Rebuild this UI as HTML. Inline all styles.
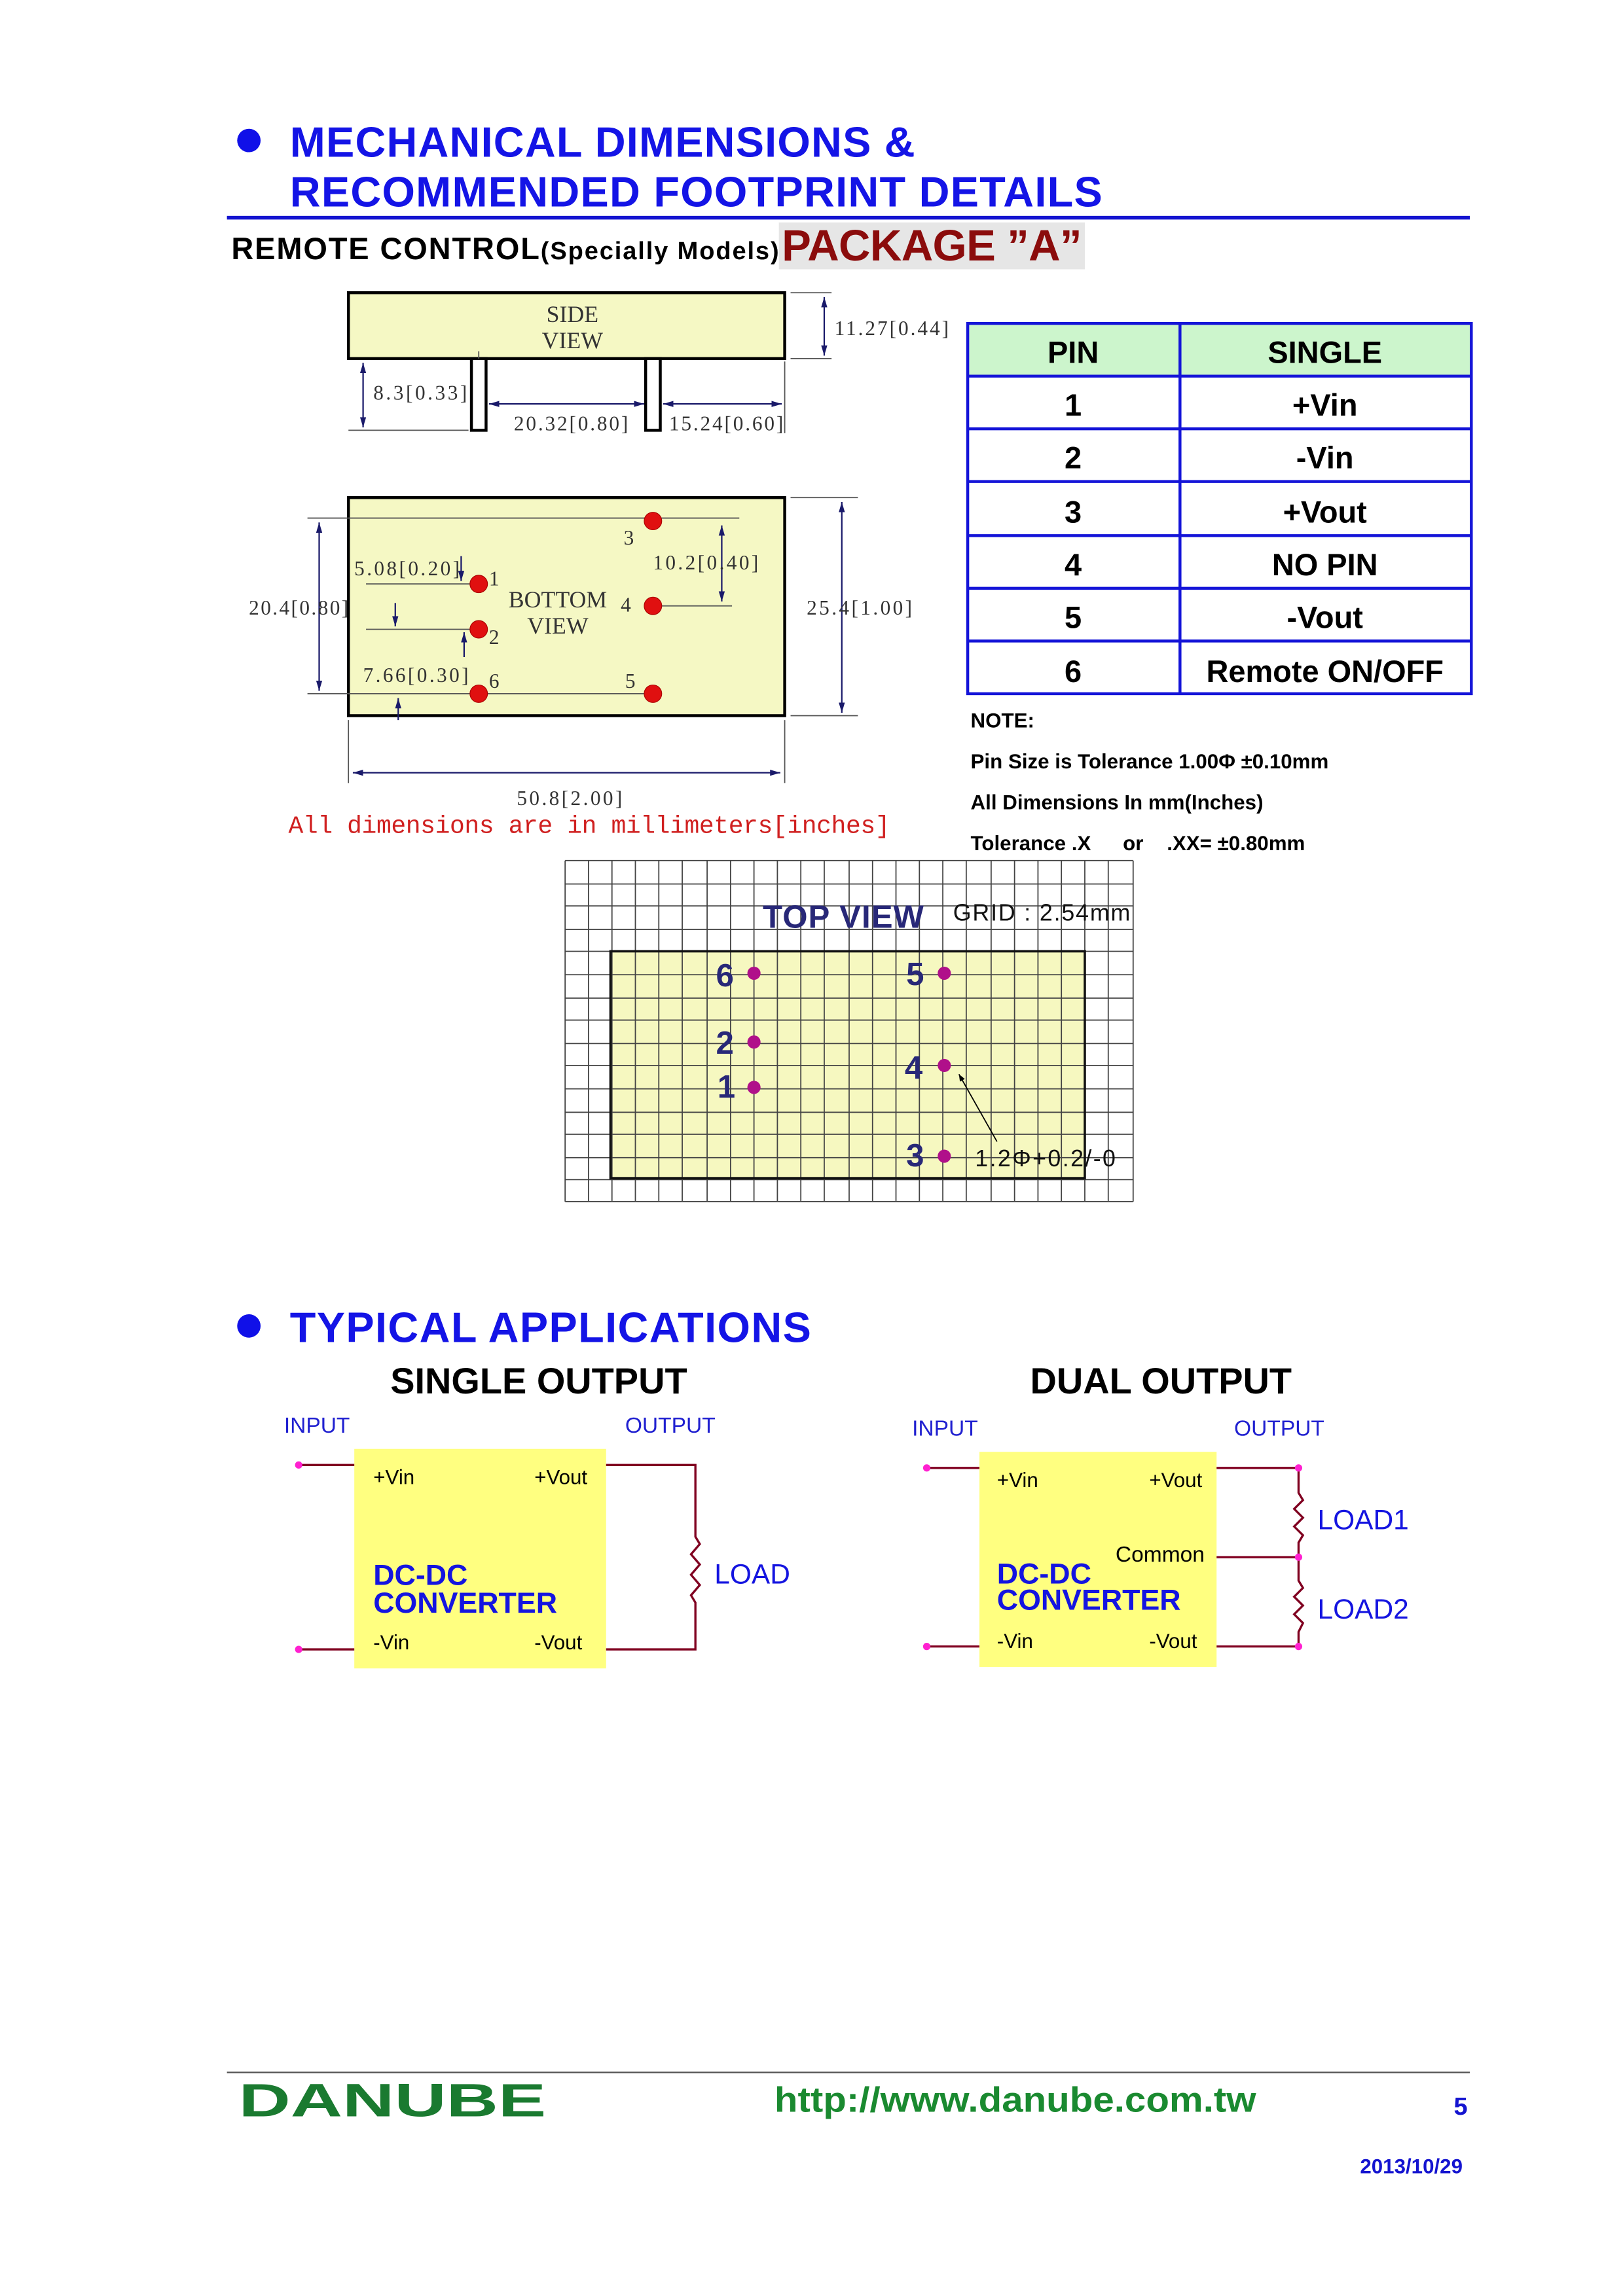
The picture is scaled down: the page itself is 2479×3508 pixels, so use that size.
<!DOCTYPE html>
<html><head><meta charset="utf-8"><style>html,body{margin:0;padding:0;background:#fff}svg{display:block}</style></head>
<body>
<svg width="2479" height="3508" viewBox="0 0 1108.6 1568.8" xmlns="http://www.w3.org/2000/svg" font-family="Liberation Sans, sans-serif">
<defs>
<marker id="a" viewBox="0 0 10 10" refX="10" refY="5" markerWidth="7" markerHeight="7" orient="auto-start-reverse"><path d="M0,2 L10,5 L0,8 z" fill="#1a1a6a"/></marker>
<marker id="b" viewBox="0 0 10 10" refX="10" refY="5" markerWidth="6" markerHeight="6" orient="auto"><path d="M0,1 L10,5 L0,9 z" fill="#000"/></marker>
</defs>
<rect width="1109" height="1569" fill="#fff"/>
<!-- Header -->
<circle cx="170" cy="96" r="8" fill="#1010e8"/>
<text x="198" y="107" font-size="29" font-weight="bold" fill="#1414e6" textLength="427">MECHANICAL DIMENSIONS &amp;</text>
<text x="198" y="141" font-size="29" font-weight="bold" fill="#1414e6" textLength="555">RECOMMENDED FOOTPRINT DETAILS</text>
<rect x="155" y="147.5" width="849" height="2.5" fill="#1414d0"/>
<text x="158" y="177" font-size="21" font-weight="bold" fill="#000" textLength="374">REMOTE CONTROL<tspan font-size="17">(Specially Models)</tspan></text>
<rect x="532" y="152" width="209" height="32" fill="#e6e6e6"/>
<text x="534" y="178" font-size="30" font-weight="bold" fill="#8b0c0c" textLength="205">PACKAGE ”A”</text>

<!-- Side view -->
<g stroke="#000" font-family="Liberation Serif, serif">
<rect x="238" y="200" width="298" height="45" fill="#f5f8c4" stroke-width="2"/>
<rect x="322" y="245" width="10" height="49" fill="#fff" stroke-width="2"/>
<rect x="441" y="245" width="10" height="49" fill="#fff" stroke-width="2"/>
<g stroke="#555" stroke-width="0.8" fill="none">
<line x1="540" y1="200" x2="568" y2="200"/><line x1="540" y1="245" x2="568" y2="245"/>
<line x1="238" y1="294" x2="320" y2="294"/><line x1="536" y1="247" x2="536" y2="296"/>
<line x1="327" y1="240" x2="327" y2="245"/>
</g>
<g stroke="#1a1a6a" stroke-width="1" fill="none">
<line x1="563" y1="203" x2="563" y2="243" marker-start="url(#a)" marker-end="url(#a)"/>
<line x1="248" y1="248" x2="248" y2="292" marker-start="url(#a)" marker-end="url(#a)"/>
<line x1="334" y1="276" x2="440" y2="276" marker-start="url(#a)" marker-end="url(#a)"/>
<line x1="453" y1="276" x2="534" y2="276" marker-start="url(#a)" marker-end="url(#a)"/>
</g>
</g>
<g font-family="Liberation Serif, serif" font-size="14" fill="#333">
<text x="391" y="220" text-anchor="middle" font-size="16">SIDE</text>
<text x="391" y="238" text-anchor="middle" font-size="16">VIEW</text>
<text x="570" y="229" textLength="78">11.27[0.44]</text>
<text x="255" y="273" textLength="64">8.3[0.33]</text>
<text x="351" y="294" textLength="78">20.32[0.80]</text>
<text x="457" y="294" textLength="78">15.24[0.60]</text>
</g>

<!-- Bottom view -->
<rect x="238" y="340" width="298" height="149" fill="#f5f8c4" stroke="#000" stroke-width="2"/>
<g stroke="#555" stroke-width="0.8" fill="none">
<line x1="210" y1="354" x2="505" y2="354"/>
<line x1="210" y1="474" x2="446" y2="474"/>
<line x1="250" y1="399" x2="325" y2="399"/>
<line x1="250" y1="430" x2="325" y2="430"/>
<line x1="446" y1="414" x2="500" y2="414"/>
<line x1="540" y1="340" x2="586" y2="340"/><line x1="540" y1="489" x2="586" y2="489"/>
<line x1="238" y1="492" x2="238" y2="535"/><line x1="536" y1="492" x2="536" y2="535"/>
</g>
<g stroke="#1a1a6a" stroke-width="1" fill="none">
<line x1="218" y1="357" x2="218" y2="472" marker-start="url(#a)" marker-end="url(#a)"/>
<line x1="575" y1="343" x2="575" y2="487" marker-start="url(#a)" marker-end="url(#a)"/>
<line x1="241" y1="528" x2="533" y2="528" marker-start="url(#a)" marker-end="url(#a)"/>
<line x1="493" y1="359" x2="493" y2="411" marker-start="url(#a)" marker-end="url(#a)"/>
<line x1="315" y1="380" x2="315" y2="397" marker-end="url(#a)"/>
<line x1="270" y1="412" x2="270" y2="428" marker-end="url(#a)"/>
<line x1="317" y1="449" x2="317" y2="432" marker-end="url(#a)"/>
<line x1="272" y1="492" x2="272" y2="477" marker-end="url(#a)"/>
</g>
<g fill="#e01010" stroke="#a00" stroke-width="0.5">
<circle cx="446" cy="356" r="6"/><circle cx="327" cy="399" r="6"/><circle cx="446" cy="414" r="6"/>
<circle cx="327" cy="430" r="6"/><circle cx="327" cy="474" r="6"/><circle cx="446" cy="474" r="6"/>
</g>
<g font-family="Liberation Serif, serif" font-size="14" fill="#333">
<text x="426" y="372">3</text><text x="334" y="400">1</text><text x="424" y="418">4</text>
<text x="334" y="440">2</text><text x="334" y="470">6</text><text x="427" y="470">5</text>
<text x="381" y="415" text-anchor="middle" font-size="16">BOTTOM</text>
<text x="381" y="433" text-anchor="middle" font-size="16">VIEW</text>
<text x="242" y="393" textLength="72">5.08[0.20]</text>
<text x="446" y="389" textLength="72">10.2[0.40]</text>
<text x="170" y="420" textLength="68">20.4[0.80]</text>
<text x="551" y="420" textLength="72">25.4[1.00]</text>
<text x="248" y="466" textLength="72">7.66[0.30]</text>
<text x="353" y="550" textLength="72">50.8[2.00]</text>
</g>
<text x="197" y="569" font-family="Liberation Mono, monospace" font-size="17" fill="#d02020" textLength="411">All dimensions are in millimeters[inches]</text>

<!-- Table -->
<rect x="661" y="221" width="344" height="36" fill="#ccf5cc"/>
<g stroke="#1414d8" stroke-width="2" fill="none">
<rect x="661" y="221" width="344" height="253"/>
<line x1="806" y1="221" x2="806" y2="474"/>
<line x1="661" y1="257" x2="1005" y2="257"/><line x1="661" y1="293" x2="1005" y2="293"/>
<line x1="661" y1="329" x2="1005" y2="329"/><line x1="661" y1="366" x2="1005" y2="366"/>
<line x1="661" y1="402" x2="1005" y2="402"/><line x1="661" y1="438" x2="1005" y2="438"/>
</g>
<g font-size="21" font-weight="bold" fill="#000" text-anchor="middle">
<text x="733" y="248">PIN</text><text x="905" y="248">SINGLE</text>
<text x="733" y="284">1</text><text x="905" y="284">+Vin</text>
<text x="733" y="320">2</text><text x="905" y="320">-Vin</text>
<text x="733" y="357">3</text><text x="905" y="357">+Vout</text>
<text x="733" y="393">4</text><text x="905" y="393">NO PIN</text>
<text x="733" y="429">5</text><text x="905" y="429">-Vout</text>
<text x="733" y="466">6</text><text x="905" y="466">Remote ON/OFF</text>
</g>
<g font-size="14" font-weight="bold" fill="#000">
<text x="663" y="497">NOTE:</text>
<text x="663" y="525">Pin Size is Tolerance 1.00Φ ±0.10mm</text>
<text x="663" y="553">All Dimensions In mm(Inches)</text>
<text x="663" y="581">Tolerance .X</text><text x="767" y="581">or</text><text x="797" y="581">.XX= ±0.80mm</text>
</g>

<!-- Top view grid -->
<rect x="417" y="650" width="324" height="155" fill="#f6f8c0"/>
<g stroke="#444" stroke-width="0.8">
<line x1="386" y1="588" x2="386" y2="821"/><line x1="402" y1="588" x2="402" y2="821"/><line x1="418" y1="588" x2="418" y2="821"/><line x1="434" y1="588" x2="434" y2="821"/><line x1="450" y1="588" x2="450" y2="821"/><line x1="466" y1="588" x2="466" y2="821"/><line x1="483" y1="588" x2="483" y2="821"/><line x1="499" y1="588" x2="499" y2="821"/><line x1="515" y1="588" x2="515" y2="821"/><line x1="531" y1="588" x2="531" y2="821"/><line x1="547" y1="588" x2="547" y2="821"/><line x1="563" y1="588" x2="563" y2="821"/><line x1="580" y1="588" x2="580" y2="821"/><line x1="596" y1="588" x2="596" y2="821"/><line x1="612" y1="588" x2="612" y2="821"/><line x1="628" y1="588" x2="628" y2="821"/><line x1="644" y1="588" x2="644" y2="821"/><line x1="660" y1="588" x2="660" y2="821"/><line x1="677" y1="588" x2="677" y2="821"/><line x1="693" y1="588" x2="693" y2="821"/><line x1="709" y1="588" x2="709" y2="821"/><line x1="725" y1="588" x2="725" y2="821"/><line x1="741" y1="588" x2="741" y2="821"/><line x1="757" y1="588" x2="757" y2="821"/><line x1="774" y1="588" x2="774" y2="821"/>
<line x1="386" y1="588" x2="774" y2="588"/><line x1="386" y1="604" x2="774" y2="604"/><line x1="386" y1="619" x2="774" y2="619"/><line x1="386" y1="635" x2="774" y2="635"/><line x1="386" y1="650" x2="774" y2="650"/><line x1="386" y1="666" x2="774" y2="666"/><line x1="386" y1="682" x2="774" y2="682"/><line x1="386" y1="697" x2="774" y2="697"/><line x1="386" y1="713" x2="774" y2="713"/><line x1="386" y1="728" x2="774" y2="728"/><line x1="386" y1="744" x2="774" y2="744"/><line x1="386" y1="760" x2="774" y2="760"/><line x1="386" y1="775" x2="774" y2="775"/><line x1="386" y1="791" x2="774" y2="791"/><line x1="386" y1="806" x2="774" y2="806"/><line x1="386" y1="821" x2="774" y2="821"/>
</g>
<rect x="417" y="650" width="324" height="155" fill="none" stroke="#111" stroke-width="1.6"/>
<text x="521" y="634" font-size="22" font-weight="bold" fill="#282878" textLength="110">TOP VIEW</text>
<text x="651" y="629" font-size="16" fill="#111" textLength="121">GRID : 2.54mm</text>
<g fill="#b0108a">
<circle cx="515" cy="665" r="4.5"/><circle cx="645" cy="665" r="4.5"/><circle cx="515" cy="712" r="4.5"/>
<circle cx="645" cy="728" r="4.5"/><circle cx="515" cy="743" r="4.5"/><circle cx="645" cy="790" r="4.5"/>
</g>
<g font-size="22" font-weight="bold" fill="#282878">
<text x="489" y="674">6</text><text x="619" y="673">5</text><text x="489" y="720">2</text>
<text x="618" y="737">4</text><text x="490" y="750">1</text><text x="619" y="797">3</text>
</g>
<line x1="681" y1="780" x2="655" y2="734" stroke="#000" stroke-width="0.8" marker-end="url(#b)"/>
<text x="666" y="797" font-size="16" fill="#111" textLength="96">1.2Φ+0.2/-0</text>

<!-- Typical applications -->
<circle cx="170" cy="906" r="8" fill="#1010e8"/>
<text x="198" y="917" font-size="29" font-weight="bold" fill="#1414e6" textLength="356">TYPICAL APPLICATIONS</text>
<text x="368" y="952" font-size="25" font-weight="bold" fill="#000" text-anchor="middle">SINGLE OUTPUT</text>
<text x="793" y="952" font-size="25" font-weight="bold" fill="#000" text-anchor="middle">DUAL OUTPUT</text>
<g font-size="15" fill="#2020d0">
<text x="194" y="979">INPUT</text><text x="427" y="979">OUTPUT</text>
<text x="623" y="981">INPUT</text><text x="843" y="981">OUTPUT</text>
</g>
<rect x="242" y="990" width="172" height="150" fill="#ffff80"/>
<rect x="669" y="992" width="162" height="147" fill="#ffff80"/>
<g stroke="#800020" stroke-width="1.5" fill="none">
<line x1="204" y1="1001" x2="242" y2="1001"/><line x1="204" y1="1127" x2="242" y2="1127"/>
<polyline points="414,1001 475,1001 475,1050 478,1055 472,1062 478,1069 472,1076 478,1083 472,1090 475,1095 475,1127 414,1127"/>
<line x1="633" y1="1003" x2="669" y2="1003"/><line x1="633" y1="1125" x2="669" y2="1125"/>
<line x1="831" y1="1003" x2="887" y2="1003"/><line x1="831" y1="1064" x2="887" y2="1064"/><line x1="831" y1="1125" x2="887" y2="1125"/>
<polyline points="887,1003 887,1020 890,1025 884,1031 890,1037 884,1043 890,1049 887,1054 887,1080 890,1085 884,1091 890,1097 884,1103 890,1109 887,1115 887,1125"/>
</g>
<g fill="#ff20d0">
<circle cx="204" cy="1001" r="2.5"/><circle cx="204" cy="1127" r="2.5"/>
<circle cx="633" cy="1003" r="2.5"/><circle cx="633" cy="1125" r="2.5"/>
<circle cx="887" cy="1003" r="2.5"/><circle cx="887" cy="1064" r="2.5"/><circle cx="887" cy="1125" r="2.5"/>
</g>
<g font-size="14" fill="#000">
<text x="255" y="1014">+Vin</text><text x="365" y="1014">+Vout</text>
<text x="255" y="1127">-Vin</text><text x="365" y="1127">-Vout</text>
<text x="681" y="1016">+Vin</text><text x="785" y="1016">+Vout</text>
<text x="681" y="1126">-Vin</text><text x="785" y="1126">-Vout</text>
<text x="762" y="1067" font-size="15">Common</text>
</g>
<g font-size="20" font-weight="bold" fill="#1414e0">
<text x="255" y="1083">DC-DC</text><text x="255" y="1102">CONVERTER</text>
<text x="681" y="1082">DC-DC</text><text x="681" y="1100">CONVERTER</text>
</g>
<g font-size="19" fill="#1414e0">
<text x="488" y="1082">LOAD</text><text x="900" y="1045">LOAD1</text><text x="900" y="1106">LOAD2</text>
</g>

<!-- Footer -->
<line x1="155" y1="1416" x2="1004" y2="1416" stroke="#555" stroke-width="1"/>
<text x="163" y="1446" font-size="32" font-weight="bold" fill="#1a7a30" textLength="210" lengthAdjust="spacingAndGlyphs">DANUBE</text>
<text x="529" y="1443" font-size="24" font-weight="bold" fill="#1a8a30" textLength="329" lengthAdjust="spacingAndGlyphs">http://www.danube.com.tw</text>
<text x="993" y="1445" font-size="17" font-weight="bold" fill="#1414d0">5</text>
<text x="929" y="1485" font-size="14" font-weight="bold" fill="#1414d0">2013/10/29</text>
</svg>
</body></html>
